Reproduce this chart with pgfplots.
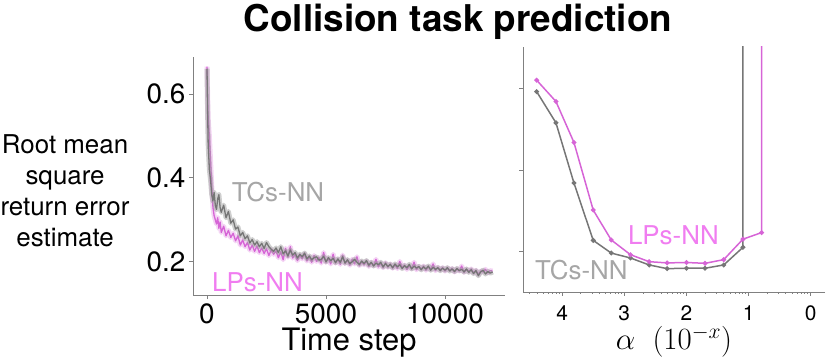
\RequirePackage{fix-cm}
\documentclass[border=0pt]{standalone}
\usepackage{pgfplots}
\pgfplotsset{compat=1.18}
\usepackage{pgfplotstable}
\usepackage{fontspec}
\setmainfont{TeX Gyre Heros}

\definecolor{tcgray}{RGB}{118,118,118}
\definecolor{lpmag}{RGB}{214,100,214}
\definecolor{tclab}{RGB}{166,166,166}
\definecolor{lplab}{RGB}{240,125,240}
\definecolor{axisgray}{RGB}{128,128,128}

% time step, TCs-NN, LPs-NN
\pgfplotstableread{
t tc lp
0 0.660 0.665
25 0.560 0.600
50 0.480 0.540
100 0.420 0.500
150 0.395 0.440
200 0.360 0.380
250 0.345 0.330
300 0.365 0.310
350 0.335 0.300
400 0.325 0.290
450 0.350 0.305
500 0.360 0.280
550 0.330 0.295
600 0.318 0.270
700 0.335 0.285
800 0.305 0.262
900 0.320 0.275
1000 0.292 0.258
1100 0.300 0.268
1200 0.278 0.250
1300 0.283 0.262
1400 0.262 0.240
1500 0.270 0.252
1600 0.255 0.236
1700 0.262 0.246
1800 0.245 0.228
1900 0.253 0.240
2000 0.240 0.225
2100 0.248 0.238
2200 0.236 0.222
2300 0.244 0.233
2400 0.232 0.220
2500 0.246 0.231
2600 0.236 0.215
2700 0.230 0.229
2800 0.225 0.218
2900 0.233 0.226
3000 0.222 0.210
3100 0.236 0.224
3200 0.219 0.205
3300 0.226 0.232
3400 0.214 0.211
3500 0.228 0.236
3600 0.216 0.209
3700 0.222 0.218
3800 0.209 0.203
3900 0.218 0.216
4000 0.212 0.207
4100 0.221 0.219
4200 0.207 0.202
4300 0.214 0.212
4400 0.205 0.199
4500 0.210 0.215
4600 0.212 0.201
4700 0.204 0.210
4800 0.206 0.197
4900 0.213 0.222
5000 0.200 0.199
5100 0.210 0.208
5200 0.203 0.195
5300 0.208 0.218
5400 0.198 0.197
5500 0.207 0.206
5600 0.199 0.194
5700 0.212 0.216
5800 0.197 0.196
5900 0.205 0.204
6000 0.196 0.192
6100 0.200 0.206
6200 0.206 0.195
6300 0.199 0.212
6400 0.194 0.191
6500 0.202 0.200
6600 0.196 0.193
6700 0.203 0.202
6800 0.192 0.189
6900 0.199 0.198
7000 0.190 0.191
7100 0.197 0.206
7200 0.193 0.188
7300 0.199 0.197
7400 0.188 0.186
7500 0.196 0.198
7600 0.189 0.187
7700 0.194 0.195
7800 0.186 0.185
7900 0.195 0.193
8000 0.188 0.184
8100 0.193 0.201
8200 0.184 0.186
8300 0.191 0.192
8400 0.186 0.182
8500 0.194 0.190
8600 0.183 0.184
8700 0.190 0.199
8800 0.185 0.181
8900 0.189 0.189
9000 0.181 0.183
9100 0.188 0.190
9200 0.183 0.180
9300 0.190 0.188
9400 0.180 0.182
9500 0.187 0.195
9600 0.182 0.179
9700 0.186 0.187
9800 0.179 0.181
9900 0.185 0.186
10000 0.180 0.178
10100 0.186 0.185
10200 0.178 0.180
10300 0.183 0.184
10400 0.177 0.176
10500 0.184 0.183
10600 0.179 0.178
10700 0.182 0.190
10800 0.176 0.175
10900 0.183 0.182
11000 0.175 0.177
11100 0.181 0.183
11200 0.172 0.174
11300 0.179 0.180
11400 0.167 0.170
11500 0.176 0.178
11600 0.180 0.176
11700 0.171 0.182
11800 0.177 0.174
11900 0.173 0.179
12000 0.176 0.178
}\losstable

\begin{document}
\begin{tikzpicture}
\path[use as bounding box] (0,0) rectangle (830bp,360bp);
\node[font=\fontsize{37}{40}\selectfont\bfseries, anchor=base] at (458bp,328bp) {Collision task prediction};

\begin{axis}[
    at={(193bp,65bp)}, anchor=south west,
    scale only axis, width=312bp, height=238bp,
    xmin=-588, xmax=12521, ymin=0.121, ymax=0.688,
    axis x line*=bottom, axis y line*=left,
    axis line style={-, draw=axisgray, line width=0.8bp},
    tick style={draw=axisgray, line width=0.8bp},
    tick align=outside, major tick length=4bp,
    xtick={0,5000,10000}, ytick={0.2,0.4,0.6},
    scaled x ticks=false,
    /pgf/number format/1000 sep={},
    /pgf/number format/assume math mode=true,
    ticklabel style={font=\fontsize{28}{28}\selectfont},
    xticklabel style={yshift=-1bp},
    xlabel={Time step},
    xlabel style={font=\fontsize{31}{31}\selectfont, inner sep=1bp},
    ylabel={Root mean\\square\\return error\\estimate},
    ylabel style={rotate=-90, align=center, font=\fontsize{26}{31}\selectfont,
        at={(axis description cs:-0.41,0.437)}, anchor=center},
]
\addplot[lpmag!60, line width=5bp, opacity=0.45, line join=round] table[x=t, y=lp] {\losstable};
\addplot[lpmag, line width=1.3bp, line join=round] table[x=t, y=lp] {\losstable};
\addplot[tcgray!70, line width=5bp, opacity=0.5, line join=round] table[x=t, y=tc] {\losstable};
\addplot[tcgray, line width=1.3bp, line join=round] table[x=t, y=tc] {\losstable};
\node[text=tclab, font=\fontsize{26}{26}\selectfont] at (axis cs:2983,0.367) {TCs-NN};
\node[text=lplab, font=\fontsize{26}{26}\selectfont] at (axis cs:2122,0.152) {LPs-NN};
\end{axis}

\begin{axis}[
    at={(523bp,68bp)}, anchor=south west,
    scale only axis, width=302bp, height=245bp,
    x dir=reverse,
    xmin=-0.23, xmax=4.63, ymin=0.102, ymax=0.70,
    axis x line*=bottom, axis y line*=left,
    axis line style={-, draw=axisgray, line width=0.8bp},
    tick style={draw=axisgray, line width=0.8bp},
    tick align=outside, major tick length=4bp, minor tick length=2bp,
    xtick={0,1,2,3,4}, ytick={0.2,0.4,0.6}, yticklabels={},
    minor xtick={4.52,4.40,4.30,4.22,4.15,4.10,4.05,
        3.70,3.52,3.40,3.30,3.22,3.15,3.10,3.05,
        2.70,2.52,2.40,2.30,2.22,2.15,2.10,2.05,
        1.70,1.52,1.40,1.30,1.22,1.15,1.10,1.05,
        0.70,0.52,0.40,0.30,0.22,0.15,0.10,0.05},
    /pgf/number format/assume math mode=true,
    xticklabel style={font=\fontsize{21}{21}\selectfont, yshift=-6bp},
    xlabel={$\alpha\ \ (10^{-x})$},
    xlabel style={font=\fontsize{31}{31}\selectfont, yshift=2bp},
    mark size=1.6bp,
]
\addplot[tcgray, line width=1.5bp, mark=*, mark options={fill=tcgray}] coordinates {
    (4.41,0.591) (4.10,0.515) (3.81,0.368) (3.50,0.228) (3.21,0.197)
    (2.90,0.185) (2.60,0.168) (2.31,0.159) (2.00,0.160) (1.70,0.160)
    (1.40,0.168) (1.09,0.211) (1.09,5.000)
};
\addplot[lpmag, line width=1.5bp, mark=*, mark options={fill=lpmag}] coordinates {
    (4.41,0.619) (4.10,0.567) (3.81,0.467) (3.50,0.302) (3.21,0.229)
    (2.90,0.193) (2.60,0.176) (2.31,0.173) (2.00,0.174) (1.70,0.172)
    (1.40,0.181) (1.09,0.231) (0.79,0.247) (0.79,5.000)
};
\node[text=lplab, font=\fontsize{26}{26}\selectfont] at (axis cs:2.21,0.241) {LPs-NN};
\node[text=tclab, font=\fontsize{26}{26}\selectfont] at (axis cs:3.69,0.156) {TCs-NN};
\end{axis}
\end{tikzpicture}
\end{document}
